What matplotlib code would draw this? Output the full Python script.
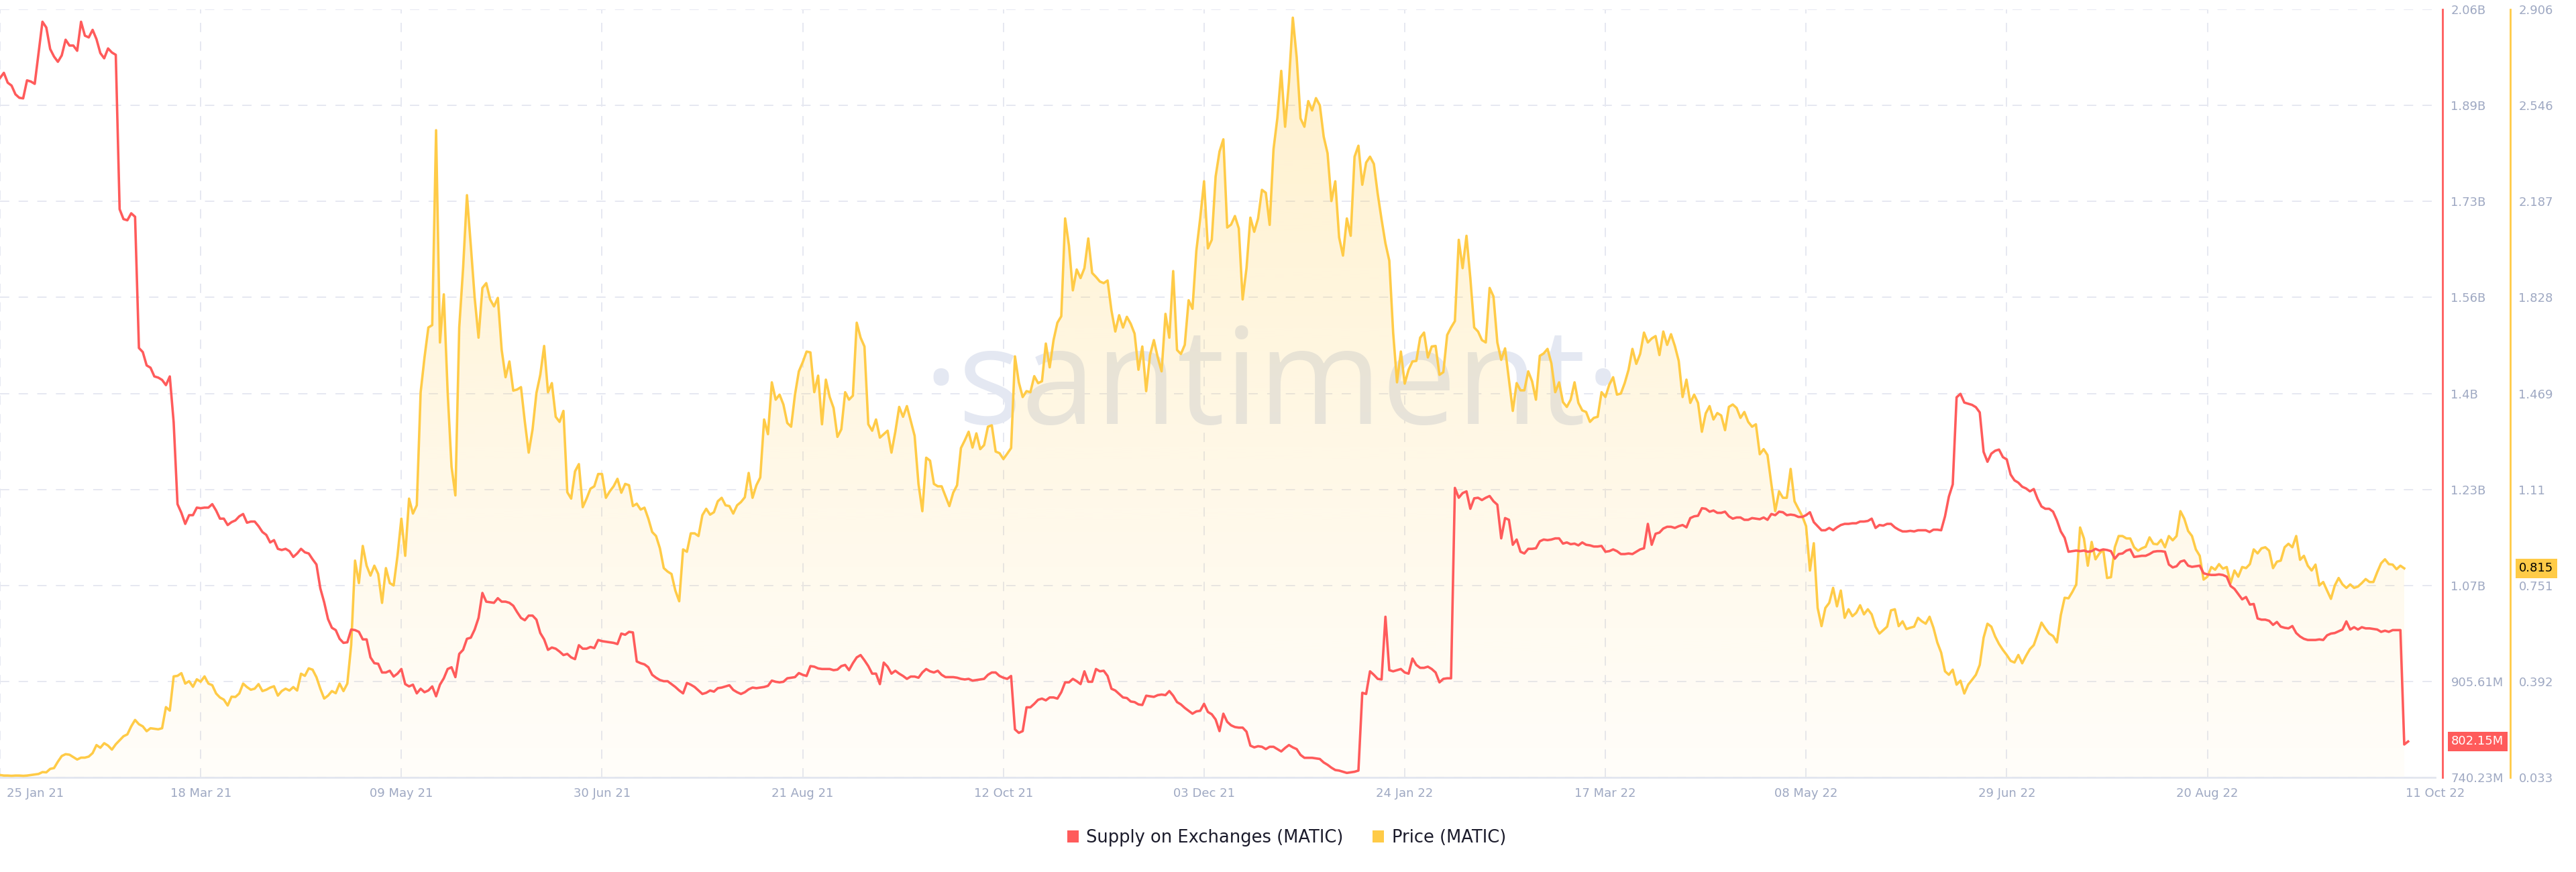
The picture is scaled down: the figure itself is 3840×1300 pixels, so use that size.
import numpy as np
import pandas as pd
import matplotlib
matplotlib.use("Agg")
import matplotlib.pyplot as plt
from matplotlib.patches import Patch
from matplotlib.colors import to_rgb
from matplotlib.transforms import blended_transform_factory, ScaledTranslation
from matplotlib import font_manager

# daily values from 25 Jan 21
start_date = "2021-01-25"

# Supply on Exchanges (MATIC), millions
supply_m = [
    1945, 1954, 1937, 1932, 1917, 1911, 1910, 1941, 1939, 1935, 1988, 2042, 2032, 1995, 1982,
    1973, 1984, 2011, 2001, 2001, 1992, 2042, 2018, 2015, 2028, 2012, 1988, 1979, 1996, 1989,
    1985, 1719, 1702, 1700, 1712, 1706, 1480, 1473, 1450, 1446, 1431, 1429, 1425, 1416, 1431,
    1352, 1211, 1196, 1177, 1192, 1192, 1205, 1204, 1205, 1205, 1211, 1200, 1186, 1186, 1175,
    1180, 1183, 1190, 1194, 1179, 1181, 1181, 1173, 1163, 1158, 1145, 1149, 1134, 1132, 1134,
    1130, 1120, 1126, 1134, 1128, 1126, 1116, 1107, 1066, 1042, 1013, 998, 994, 979, 972,
    973, 995, 994, 991, 978, 978, 947, 937, 936, 921, 921, 924, 914, 919, 927,
    901, 897, 900, 885, 893, 887, 890, 897, 880, 900, 911, 927, 930, 913, 953,
    960, 979, 981, 995, 1015, 1058, 1043, 1042, 1041, 1049, 1043, 1043, 1041, 1036, 1025,
    1015, 1011, 1019, 1019, 1012, 989, 978, 960, 964, 962, 957, 951, 953, 947, 944,
    968, 962, 962, 965, 963, 977, 975, 974, 973, 972, 970, 988, 986, 991, 990,
    940, 937, 935, 930, 917, 912, 908, 906, 906, 901, 896, 890, 885, 903, 900,
    896, 890, 884, 886, 890, 888, 894, 895, 897, 899, 891, 887, 884, 887, 892,
    895, 894, 895, 896, 898, 907, 905, 904, 905, 911, 912, 913, 920, 917,
    915, 932, 931, 928, 927, 927, 927, 925, 926, 932, 934, 925, 937, 947, 951,
    942, 932, 919, 919, 901, 938, 931, 919, 924, 919, 915, 910, 914, 914, 912,
    921, 927, 923, 921, 924, 917, 913, 913, 913, 912, 910, 909, 910, 907, 908,
    909, 910, 917, 921, 921, 915, 912, 910, 915, 823, 817, 820, 861, 861, 867,
    874, 876, 873, 878, 878, 876, 887, 904, 904, 910, 906, 901, 923, 905, 905,
    927, 923, 924, 915, 893, 890, 884, 878, 877, 871, 870, 866, 865, 881, 880,
    879, 882, 883, 882, 889, 881, 870, 866, 860, 855, 850, 854, 855, 867,
    853, 849, 840, 820, 850, 836, 830, 827, 826, 826, 819, 795, 792, 794, 793,
    789, 793, 793, 789, 785, 791, 796, 792, 789, 779, 774, 774, 774, 773, 772,
    766, 762, 757, 753, 752, 750, 748, 749, 750, 752, 886, 884, 923, 917, 910,
    909, 1017, 925, 923, 925, 927, 921, 919, 945, 934, 929, 929, 931, 927, 921,
    904, 910, 911, 911, 1239, 1222, 1230, 1233, 1203, 1221, 1222, 1218, 1222, 1225, 1216,
    1210, 1152, 1187, 1184, 1141, 1150, 1129, 1126, 1134, 1134, 1135, 1147, 1150, 1149, 1150,
    1152, 1152, 1143, 1145, 1142, 1143, 1140, 1145, 1141, 1140, 1138, 1138, 1139, 1129,
    1130, 1133, 1130, 1125, 1125, 1126, 1125, 1129, 1133, 1135, 1177, 1141, 1160, 1162, 1169,
    1172, 1172, 1170, 1173, 1175, 1171, 1187, 1190, 1191, 1204, 1203, 1198, 1200, 1196, 1196,
    1198, 1190, 1186, 1188, 1188, 1184, 1184, 1187, 1186, 1185, 1188, 1184, 1194, 1192, 1198,
    1197, 1192, 1193, 1192, 1189, 1189, 1192, 1197, 1180, 1173, 1166, 1166, 1170, 1166, 1171,
    1175, 1177, 1177, 1178, 1178, 1181, 1181, 1182, 1186, 1170, 1175, 1174, 1177, 1177, 1171,
    1167, 1164, 1164, 1165, 1164, 1166, 1166, 1166, 1163, 1167, 1167, 1166, 1190, 1224, 1245,
    1395, 1401, 1386, 1384, 1382, 1378, 1369, 1301, 1284, 1298, 1303, 1305, 1292, 1288, 1262,
    1252, 1248, 1241, 1238, 1233, 1237, 1220, 1207, 1203, 1203, 1198, 1183, 1164, 1153, 1129,
    1130, 1131, 1130, 1131, 1129, 1130, 1134, 1131, 1133, 1132, 1130, 1117, 1125, 1126, 1131,
    1133, 1120, 1121, 1122, 1122, 1125, 1129, 1130, 1130, 1129, 1107, 1102, 1104, 1112, 1114,
    1105, 1103, 1104, 1105, 1092, 1090, 1089, 1089, 1090, 1089, 1086, 1070, 1065, 1056, 1047,
    1051, 1038, 1039, 1014, 1012, 1012, 1010, 1003, 1008, 1000, 998, 997, 1001, 989, 983,
    979, 977, 977, 977, 978, 977, 985, 988, 989, 992, 995, 1009, 995, 999, 995,
    999, 997, 997, 996, 995, 991, 993, 991, 994, 994, 994, 797, 802.15,
]

# Price (MATIC), USD
price_usd = [
    0.042, 0.040, 0.040, 0.039, 0.040, 0.040, 0.039, 0.040, 0.042, 0.044, 0.046, 0.053, 0.052, 0.065, 0.068,
    0.092, 0.113, 0.120, 0.118, 0.109, 0.100, 0.107, 0.107, 0.111, 0.124, 0.154, 0.144, 0.161, 0.152, 0.137,
    0.157, 0.172, 0.187, 0.194, 0.224, 0.248, 0.232, 0.224, 0.206, 0.217, 0.215, 0.213, 0.217, 0.296, 0.283,
    0.411, 0.413, 0.423, 0.384, 0.393, 0.372, 0.400, 0.391, 0.411, 0.384, 0.378, 0.347, 0.332, 0.324, 0.302,
    0.335, 0.334, 0.347, 0.384, 0.371, 0.361, 0.365, 0.382, 0.356, 0.361, 0.369, 0.374, 0.339, 0.356, 0.365,
    0.358, 0.371, 0.358, 0.421, 0.413, 0.441, 0.436, 0.408, 0.365, 0.328, 0.339, 0.356, 0.348, 0.384, 0.356,
    0.384, 0.528, 0.844, 0.760, 0.899, 0.825, 0.788, 0.825, 0.794, 0.686, 0.816, 0.760, 0.751, 0.862, 1.001,
    0.862, 1.076, 1.020, 1.051, 1.474, 1.604, 1.716, 1.725, 2.454, 1.660, 1.840, 1.474, 1.196, 1.088, 1.716,
    1.938, 2.211, 2.022, 1.827, 1.678, 1.864, 1.882, 1.821, 1.795, 1.827, 1.632, 1.530, 1.589, 1.480, 1.484,
    1.493, 1.363, 1.248, 1.335, 1.471, 1.539, 1.647, 1.474, 1.508, 1.382, 1.363, 1.404, 1.100, 1.076, 1.178,
    1.205, 1.044, 1.076, 1.113, 1.122, 1.168, 1.168, 1.079, 1.103, 1.122, 1.150, 1.098, 1.131, 1.126, 1.048,
    1.057, 1.035, 1.042, 1.001, 0.951, 0.936, 0.890, 0.816, 0.803, 0.794, 0.732, 0.692, 0.886, 0.877, 0.946,
    0.946, 0.936, 1.014, 1.038, 1.016, 1.025, 1.066, 1.079, 1.051, 1.048, 1.020, 1.051, 1.063, 1.081, 1.172,
    1.079, 1.126, 1.155, 1.372, 1.317, 1.511, 1.446, 1.465, 1.428, 1.359, 1.345, 1.465, 1.552, 1.586,
    1.626, 1.623, 1.474, 1.536, 1.354, 1.521, 1.456, 1.415, 1.307, 1.335, 1.474, 1.446, 1.461, 1.734, 1.678,
    1.645, 1.354, 1.330, 1.372, 1.304, 1.317, 1.330, 1.248, 1.326, 1.419, 1.382, 1.422, 1.367, 1.311, 1.131,
    1.029, 1.229, 1.218, 1.131, 1.122, 1.122, 1.085, 1.048, 1.098, 1.126, 1.265, 1.294, 1.326, 1.267, 1.320,
    1.261, 1.276, 1.345, 1.350, 1.252, 1.246, 1.224, 1.244, 1.265, 1.608, 1.511, 1.456, 1.478, 1.474, 1.534,
    1.508, 1.515, 1.656, 1.567, 1.669, 1.734, 1.758, 2.124, 2.022, 1.855, 1.933, 1.901, 1.938, 2.049, 1.920,
    1.905, 1.888, 1.882, 1.892, 1.780, 1.701, 1.762, 1.716, 1.756, 1.730, 1.693, 1.558, 1.645, 1.478, 1.613,
    1.669, 1.604, 1.552, 1.767, 1.678, 1.927, 1.632, 1.617, 1.651, 1.818, 1.786, 2.003, 2.124, 2.263,
    2.012, 2.044, 2.281, 2.374, 2.420, 2.090, 2.101, 2.133, 2.087, 1.821, 1.938, 2.127, 2.074, 2.124, 2.231,
    2.220, 2.100, 2.383, 2.500, 2.676, 2.467, 2.634, 2.875, 2.727, 2.498, 2.467, 2.563, 2.528, 2.574, 2.547,
    2.430, 2.368, 2.189, 2.263, 2.053, 1.985, 2.124, 2.059, 2.355, 2.396, 2.250, 2.333, 2.355, 2.328, 2.216,
    2.120, 2.031, 1.966, 1.697, 1.511, 1.626, 1.506, 1.558, 1.589, 1.591, 1.678, 1.697, 1.604, 1.645, 1.647,
    1.539, 1.549, 1.688, 1.716, 1.740, 2.044, 1.938, 2.059, 1.901, 1.716, 1.701, 1.669, 1.660, 1.864, 1.832,
    1.660, 1.595, 1.638, 1.521, 1.404, 1.508, 1.481, 1.481, 1.552, 1.515, 1.446, 1.610, 1.619, 1.636, 1.582,
    1.474, 1.511, 1.437, 1.419, 1.446, 1.511, 1.434, 1.406, 1.400, 1.363, 1.378, 1.382, 1.474, 1.456,
    1.502, 1.530, 1.465, 1.469, 1.508, 1.558, 1.636, 1.580, 1.617, 1.697, 1.660, 1.675, 1.684, 1.613, 1.701,
    1.651, 1.691, 1.647, 1.591, 1.456, 1.521, 1.434, 1.465, 1.434, 1.326, 1.395, 1.422, 1.372, 1.396, 1.387,
    1.332, 1.419, 1.428, 1.415, 1.378, 1.400, 1.363, 1.345, 1.354, 1.242, 1.261, 1.239, 1.131, 1.029, 1.103,
    1.079, 1.079, 1.187, 1.066, 1.038, 1.011, 0.973, 0.807, 0.909, 0.667, 0.599, 0.667, 0.686, 0.742, 0.673,
    0.732, 0.630, 0.662, 0.636, 0.649, 0.677, 0.643, 0.662, 0.643, 0.597, 0.571, 0.584, 0.597, 0.658, 0.662,
    0.599, 0.617, 0.588, 0.593, 0.597, 0.630, 0.617, 0.608, 0.634, 0.593, 0.538, 0.500, 0.430, 0.417, 0.436,
    0.380, 0.395, 0.347, 0.380, 0.398, 0.417, 0.454, 0.556, 0.608, 0.597, 0.560, 0.532, 0.510, 0.491, 0.469,
    0.463, 0.491, 0.460, 0.488, 0.513, 0.528, 0.569, 0.612, 0.590, 0.571, 0.562, 0.538, 0.640, 0.705, 0.703,
    0.727, 0.755, 0.968, 0.927, 0.825, 0.914, 0.849, 0.871, 0.884, 0.779, 0.782, 0.894, 0.936, 0.936, 0.927,
    0.927, 0.894, 0.881, 0.890, 0.896, 0.931, 0.907, 0.905, 0.922, 0.894, 0.936, 0.920, 0.936, 1.029, 1.001,
    0.955, 0.936, 0.886, 0.862, 0.773, 0.784, 0.820, 0.810, 0.831, 0.814, 0.820, 0.760, 0.807, 0.784, 0.820,
    0.816, 0.831, 0.886, 0.871, 0.890, 0.894, 0.881, 0.816, 0.840, 0.844, 0.894, 0.907, 0.894, 0.936, 0.847,
    0.862, 0.825, 0.807, 0.829, 0.751, 0.764, 0.732, 0.701, 0.751, 0.779, 0.755, 0.742, 0.755, 0.742, 0.747,
    0.760, 0.775, 0.764, 0.764, 0.801, 0.834, 0.849, 0.831, 0.829, 0.812, 0.825, 0.815,
]

supply_range = (740.23, 2063.27)
supply_labels = ["740.23M", "905.61M", "1.07B", "1.23B", "1.4B", "1.56B", "1.73B", "1.89B", "2.06B"]
price_range = (0.033, 2.906)
price_labels = ["0.033", "0.392", "0.751", "1.11", "1.469", "1.828", "2.187", "2.546", "2.906"]

date_ticks = ["2021-01-25", "2021-03-18", "2021-05-09", "2021-06-30", "2021-08-21", "2021-10-12",
              "2021-12-03", "2022-01-24", "2022-03-17", "2022-05-08", "2022-06-29", "2022-08-20"]
date_labels = ["25 Jan 21", "18 Mar 21", "09 May 21", "30 Jun 21", "21 Aug 21", "12 Oct 21",
               "03 Dec 21", "24 Jan 22", "17 Mar 22", "08 May 22", "29 Jun 22", "20 Aug 22"]
last_label = "11 Oct 22"

RED = "#ff5b5b"
YELLOW = "#ffcb47"
GREY = "#9ea8c2"
GRID = "#e6e8f1"

plt.rcParams["lines.scale_dashes"] = False

W, H = 3840, 1300
fig = plt.figure(figsize=(W / 100, H / 100), dpi=100)
ax = fig.add_axes([0, 1 - 1159 / H, 3630 / W, (1159 - 14) / H])
ax_s = ax.twinx()

d_supply = pd.date_range(start_date, periods=len(supply_m), freq="D")
d_price = d_supply[:len(price_usd)]
x0 = pd.Timestamp(start_date)
x1 = x0 + pd.Timedelta(days=631)

# price: gradient area + line
ax.plot(d_price, price_usd, color=YELLOW, lw=2.6, zorder=3)
poly = ax.fill_between(d_price, price_usd, price_range[0], facecolor="none", edgecolor="none")
grad = np.zeros((256, 1, 4))
grad[..., :3] = to_rgb(YELLOW)
grad[:, 0, 3] = np.linspace(0.28, 0.03, 256)
im = ax.imshow(grad, extent=[0, 1, 0, 1], transform=ax.transAxes, aspect="auto",
               interpolation="bilinear", zorder=1)
im.set_clip_path(poly.get_paths()[0], transform=ax.transData)

ax_s.plot(d_supply, supply_m, color=RED, lw=2.6, zorder=3)

ax.set_xlim(x0, x1)
ax.set_ylim(*price_range)
ax_s.set_ylim(*supply_range)

# axes / ticks
ax.set_axisbelow(True)
ax.yaxis.tick_right()
ax.set_yticks(np.linspace(*price_range, len(price_labels)))
ax.set_yticklabels(price_labels)
ax_s.set_yticks(np.linspace(*supply_range, len(supply_labels)))
ax_s.set_yticklabels(supply_labels)

ax.set_xticks(list(pd.to_datetime(date_ticks)) + [x1])
ax.set_xticklabels(date_labels + [last_label])

ax.grid(True, color=GRID, lw=1.4, linestyle=(0, (10, 10)))

for a in (ax, ax_s):
    a.spines["top"].set_visible(False)
    a.spines["left"].set_visible(False)
ax_s.spines["bottom"].set_visible(False)
ax.spines["bottom"].set_color("#e2e6ef")
ax.spines["bottom"].set_linewidth(2)
ax.spines["right"].set_position(("axes", 1 + 112 / 3630))
ax.spines["right"].set_color(YELLOW)
ax.spines["right"].set_linewidth(2)
ax_s.spines["right"].set_position(("axes", 1 + 11 / 3630))
ax_s.spines["right"].set_color(RED)
ax_s.spines["right"].set_linewidth(2)

ax.tick_params(axis="y", length=0, pad=9, labelsize=13, labelcolor=GREY)
ax_s.tick_params(axis="y", length=0, pad=9, labelsize=13, labelcolor=GREY)
ax.tick_params(axis="x", length=0, pad=11, labelsize=13, labelcolor=GREY)

xt = ax.xaxis.get_major_ticks()
xt[-1].gridline.set_visible(False)
xt[0].label1.set_horizontalalignment("left")
xt[0].label1.set_transform(xt[0].label1.get_transform() + ScaledTranslation(0.1, 0, fig.dpi_scale_trans))

# last-value badges
bt_s = blended_transform_factory(ax_s.transAxes, ax_s.transData)
ax_s.text(1 + 24 / 3630, supply_m[-1], f"{supply_m[-1]:.2f}M", transform=bt_s, ha="left", va="center",
          color="white", fontsize=13, zorder=10, clip_on=False,
          bbox=dict(boxstyle="square,pad=0.3", fc=RED, ec="none"))
bt_p = blended_transform_factory(ax.transAxes, ax.transData)
ax.text(1 + 125 / 3630, price_usd[-1], f"{price_usd[-1]:.3f}", transform=bt_p, ha="left", va="center",
        color="black", fontsize=13, zorder=10, clip_on=False,
        bbox=dict(boxstyle="square,pad=0.3", fc=YELLOW, ec="none"))

# watermark, behind the area fill
names = {f.name for f in font_manager.fontManager.ttflist}
wm_font = "Open Sans" if "Open Sans" in names else "DejaVu Sans"
wm = ax.text(1896 / W, 1 - 632 / H, "\u00b7santiment\u00b7", transform=fig.transFigure,
             ha="center", va="baseline", fontsize=170, family=wm_font, color="#e4e8f2", zorder=0.8)
renderer = fig.canvas.get_renderer()
bb = wm.get_window_extent(renderer)
wm.set_fontsize(170 * 1040 / bb.width)

handles = [Patch(facecolor=RED, label="Supply on Exchanges (MATIC)"),
           Patch(facecolor=YELLOW, label="Price (MATIC)")]
fig.legend(handles=handles, loc="center", bbox_to_anchor=(0.4995, 0.039), ncol=2, frameon=False,
           fontsize=18.5, handlelength=0.65, handleheight=0.7, handletextpad=0.45,
           columnspacing=1.7, labelcolor="#1b1b2b")

fig.savefig("out.png", dpi=100)
